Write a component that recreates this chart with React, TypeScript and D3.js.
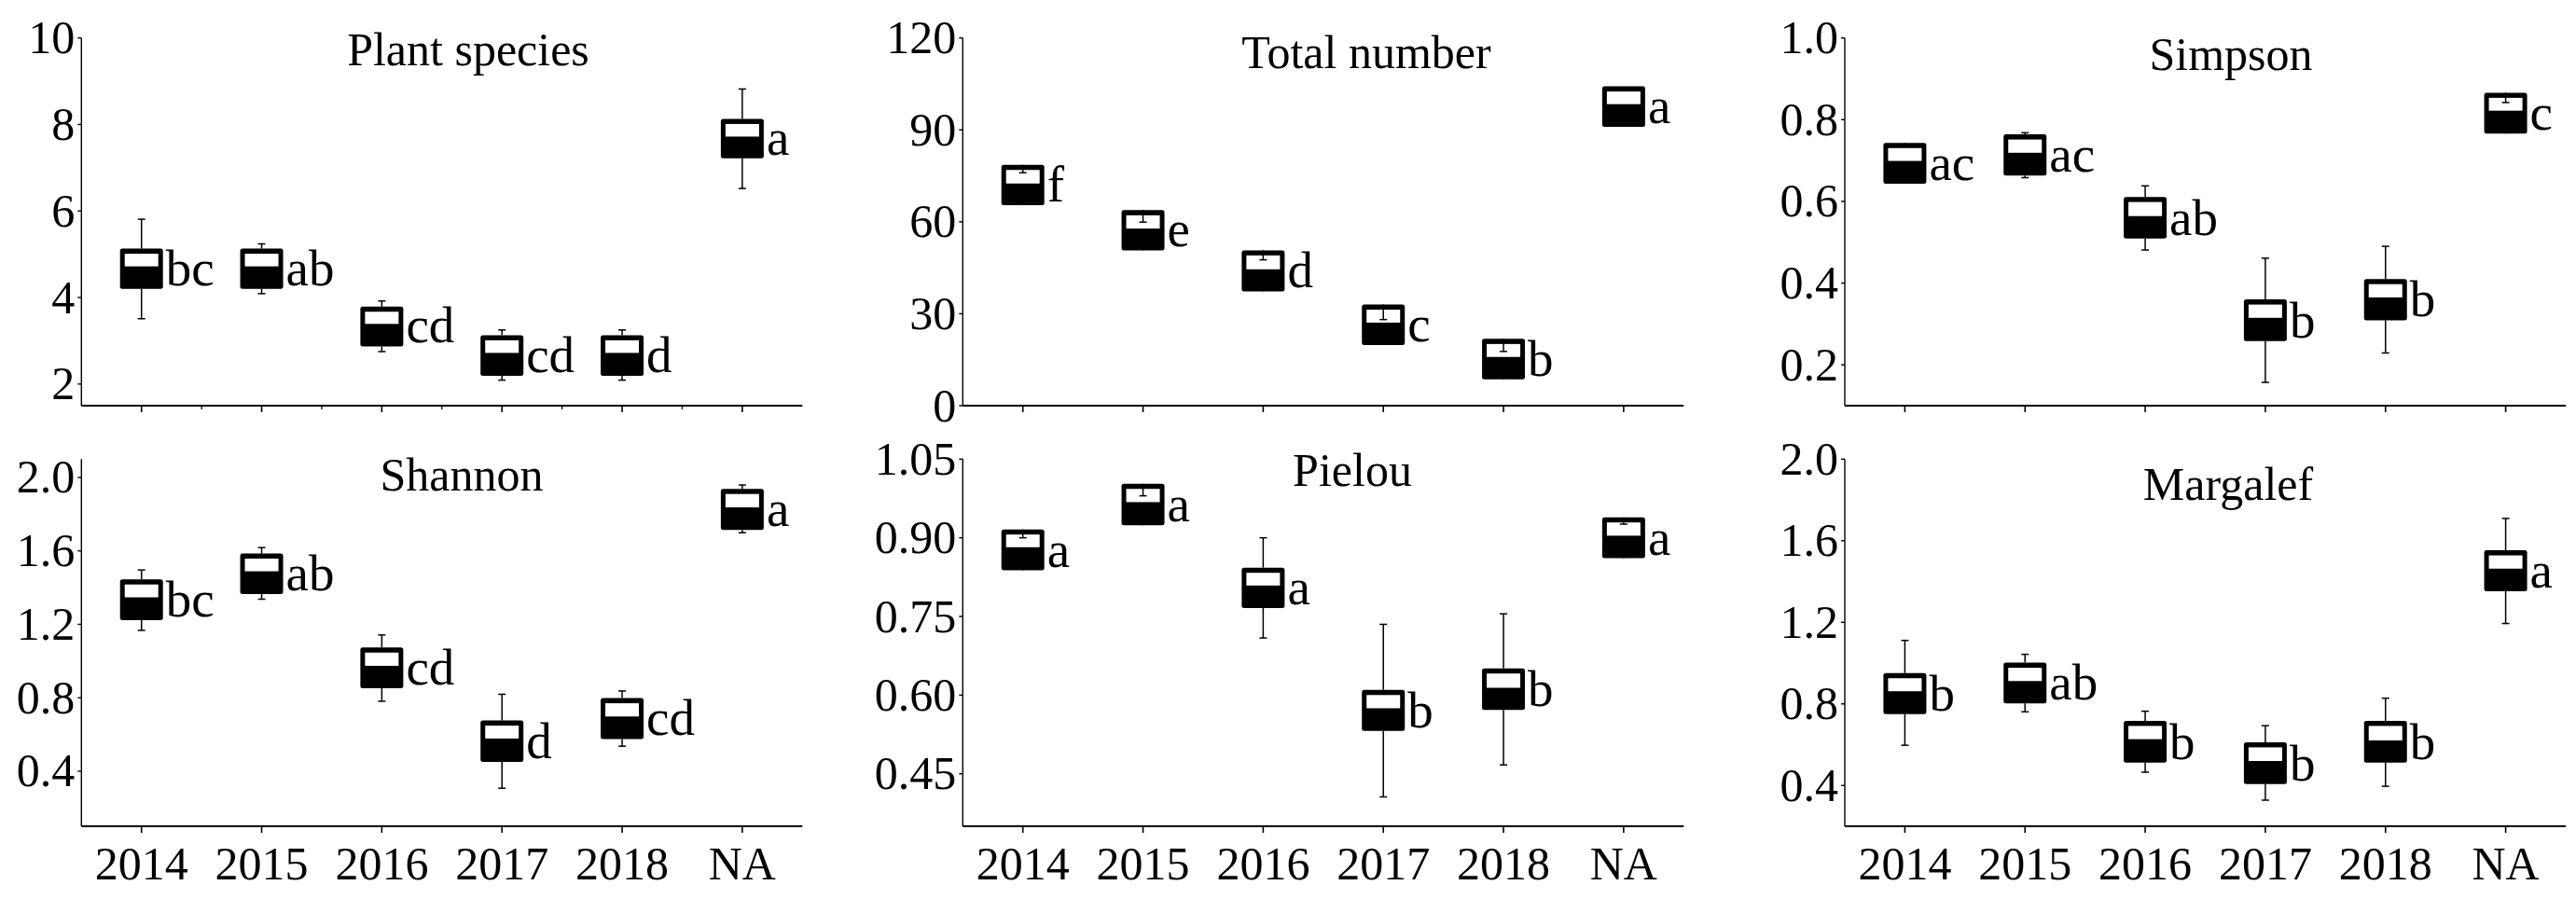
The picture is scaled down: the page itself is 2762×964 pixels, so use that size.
import React from 'react';
import * as d3 from 'd3';

const categories = ['2014', '2015', '2016', '2017', '2018', 'NA'];

// each row: [boxLow, split (black/white boundary), boxHigh, whiskerLow, whiskerHigh]
const plantSpecies = [
  [4.2, 4.72, 5.13, 3.51, 5.81],
  [4.2, 4.72, 5.13, 4.09, 5.24],
  [2.87, 3.39, 3.79, 2.75, 3.92],
  [2.19, 2.72, 3.13, 2.09, 3.25],
  [2.19, 2.72, 3.13, 2.09, 3.25],
  [7.22, 7.72, 8.13, 6.52, 8.82],
];
const totalNumber = [
  [65.4, 72.5, 78.6, 69.0, 76.0],
  [50.7, 57.8, 63.8, 55.7, 59.9],
  [37.3, 44.5, 50.7, 41.4, 47.6],
  [19.8, 27.1, 33.0, 26.1, 28.1],
  [8.6, 15.9, 21.8, 14.1, 17.7],
  [91.0, 98.4, 104.2, 96.0, 104.2],
];
const simpson = [
  [0.643, 0.699, 0.743, 0.664, 0.734],
  [0.663, 0.719, 0.764, 0.658, 0.768],
  [0.509, 0.564, 0.611, 0.481, 0.638],
  [0.258, 0.315, 0.36, 0.157, 0.461],
  [0.309, 0.365, 0.41, 0.229, 0.49],
  [0.766, 0.822, 0.866, 0.802, 0.842],
];
const shannon = [
  [1.223, 1.347, 1.445, 1.167, 1.496],
  [1.365, 1.489, 1.586, 1.337, 1.618],
  [0.852, 0.974, 1.074, 0.781, 1.142],
  [0.451, 0.578, 0.676, 0.307, 0.819],
  [0.575, 0.698, 0.798, 0.536, 0.837],
  [1.714, 1.837, 1.938, 1.699, 1.959],
];
const pielou = [
  [0.838, 0.882, 0.916, 0.864, 0.9],
  [0.924, 0.968, 1.003, 0.956, 0.98],
  [0.766, 0.809, 0.843, 0.709, 0.9],
  [0.532, 0.575, 0.61, 0.406, 0.735],
  [0.572, 0.614, 0.651, 0.467, 0.755],
  [0.861, 0.904, 0.939, 0.882, 0.926],
];
const margalef = [
  [0.75, 0.862, 0.951, 0.597, 1.111],
  [0.802, 0.912, 1.002, 0.761, 1.043],
  [0.512, 0.627, 0.717, 0.465, 0.764],
  [0.407, 0.52, 0.612, 0.328, 0.693],
  [0.512, 0.621, 0.717, 0.396, 0.828],
  [1.352, 1.463, 1.553, 1.194, 1.709],
];

const plantLetters = ['bc', 'ab', 'cd', 'cd', 'd', 'a'];
const totalLetters = ['f', 'e', 'd', 'c', 'b', 'a'];
const simpsonLetters = ['ac', 'ac', 'ab', 'b', 'b', 'c'];
const shannonLetters = ['bc', 'ab', 'cd', 'd', 'cd', 'a'];
const pielouLetters = ['a', 'a', 'a', 'b', 'b', 'a'];
const margalefLetters = ['b', 'ab', 'b', 'b', 'b', 'a'];

const plantTicks = [2, 4, 6, 8, 10];
const totalTicks = [0, 30, 60, 90, 120];
const simpsonTicks = [0.2, 0.4, 0.6, 0.8, 1.0];
const shannonTicks = [0.4, 0.8, 1.2, 1.6, 2.0];
const pielouTicks = [0.45, 0.6, 0.75, 0.9, 1.05];
const margalefTicks = [0.4, 0.8, 1.2, 1.6, 2.0];

const W = 2762;
const H = 964;
const FONT = '"Liberation Serif", "Times New Roman", serif';
const colLeft = [87.3, 1032.3, 1978];
const axisLen = 773;
const rows = [
  { top: 40.7, bottom: 435 },
  { top: 492.3, bottom: 886 },
];

const panels = [
  { title: 'Plant species', data: plantSpecies, letters: plantLetters, ticks: plantTicks, domain: [1.5, 10], fmt: d3.format('d'), col: 0, row: 0, tx: 502, ty: 70, minor: true },
  { title: 'Total number', data: totalNumber, letters: totalLetters, ticks: totalTicks, domain: [0, 120], fmt: d3.format('d'), col: 1, row: 0, tx: 1465, ty: 73, minor: false },
  { title: 'Simpson', data: simpson, letters: simpsonLetters, ticks: simpsonTicks, domain: [0.1, 1.0], fmt: d3.format('.1f'), col: 2, row: 0, tx: 2392, ty: 75, minor: false },
  { title: 'Shannon', data: shannon, letters: shannonLetters, ticks: shannonTicks, domain: [0.1, 2.1], fmt: d3.format('.1f'), col: 0, row: 1, tx: 495, ty: 526, minor: false },
  { title: 'Pielou', data: pielou, letters: pielouLetters, ticks: pielouTicks, domain: [0.35, 1.05], fmt: d3.format('.2f'), col: 1, row: 1, tx: 1450, ty: 521, minor: false },
  { title: 'Margalef', data: margalef, letters: margalefLetters, ticks: margalefTicks, domain: [0.2, 2.0], fmt: d3.format('.1f'), col: 2, row: 1, tx: 2389, ty: 536, minor: false },
];

const BOX_W = 46;
const SIDE = 5;
const TOPB = 5.5;
const CAP = 8;

function Panel({ p }: { p: any }) {
  const left = colLeft[p.col];
  const { top, bottom } = rows[p.row];
  const x = d3.scaleBand<string>().domain(categories).range([left, left + axisLen]).padding(0);
  const y = d3.scaleLinear().domain(p.domain).range([bottom, top]);
  const bw = x.bandwidth();
  const showXLabels = p.row === 1;
  return (
    <g>
      <line x1={left} x2={left} y1={top} y2={bottom} stroke="#000" strokeWidth={1.4} />
      <line x1={left} x2={left + axisLen} y1={bottom} y2={bottom} stroke="#000" strokeWidth={2} />
      {p.ticks.map((t: number) => (
        <g key={t}>
          <line x1={left - 4} x2={left} y1={y(t)} y2={y(t)} stroke="#000" strokeWidth={1.4} />
          <text x={left - 7} y={y(t) + 16.5} textAnchor="end" fontFamily={FONT} fontSize={50}>
            {p.fmt(t)}
          </text>
        </g>
      ))}
      {categories.map((c) => {
        const cx = (x(c) as number) + bw / 2;
        return (
          <g key={c}>
            <line x1={cx} x2={cx} y1={bottom} y2={bottom + 7} stroke="#000" strokeWidth={1.6} />
            {showXLabels && (
              <text x={cx} y={943} textAnchor="middle" fontFamily={FONT} fontSize={50}>
                {c}
              </text>
            )}
          </g>
        );
      })}
      {p.minor &&
        categories.slice(1).map((c) => {
          const bx = x(c) as number;
          return <line key={'m' + c} x1={bx} x2={bx} y1={bottom} y2={bottom + 4} stroke="#000" strokeWidth={1.3} />;
        })}
      {p.data.map((d: number[], i: number) => {
        const c = categories[i];
        const cx = (x(c) as number) + bw / 2;
        const [lo, mid, hi, wlo, whi] = d;
        const yHi = y(hi);
        const yLo = y(lo);
        const yMid = y(mid);
        const yWHi = y(whi);
        const yWLo = y(wlo);
        return (
          <g key={c}>
            <rect x={cx - BOX_W / 2} y={yHi} width={BOX_W} height={yLo - yHi} rx={2.5} fill="#000" />
            <rect x={cx - BOX_W / 2 + SIDE} y={yHi + TOPB} width={BOX_W - 2 * SIDE} height={Math.max(0, yMid - yHi - TOPB)} fill="#fff" />
            {Math.abs(yWHi - yHi) > 0.5 && (
              <g>
                <line x1={cx} x2={cx} y1={yHi} y2={yWHi} stroke="#000" strokeWidth={1.5} />
                <line x1={cx - CAP / 2} x2={cx + CAP / 2} y1={yWHi} y2={yWHi} stroke="#000" strokeWidth={1.5} />
              </g>
            )}
            {Math.abs(yWLo - yLo) > 0.5 && (
              <g>
                <line x1={cx} x2={cx} y1={yLo} y2={yWLo} stroke="#000" strokeWidth={1.5} />
                <line x1={cx - CAP / 2} x2={cx + CAP / 2} y1={yWLo} y2={yWLo} stroke="#000" strokeWidth={1.5} />
              </g>
            )}
            <text x={cx + BOX_W / 2 + 3} y={yLo - 4} fontFamily={FONT} fontSize={55}>
              {p.letters[i]}
            </text>
          </g>
        );
      })}
      <text x={p.tx} y={p.ty} textAnchor="middle" fontFamily={FONT} fontSize={50}>
        {p.title}
      </text>
    </g>
  );
}

export default function App() {
  return (
    <svg
      width={W}
      height={H}
      viewBox={`0 0 ${W} ${H}`}
      style={{ position: 'absolute', left: 0, top: 0, background: '#fff' }}
    >
      <rect x={0} y={0} width={W} height={H} fill="#fff" />
      {panels.map((p) => (
        <Panel key={p.title} p={p} />
      ))}
    </svg>
  );
}
